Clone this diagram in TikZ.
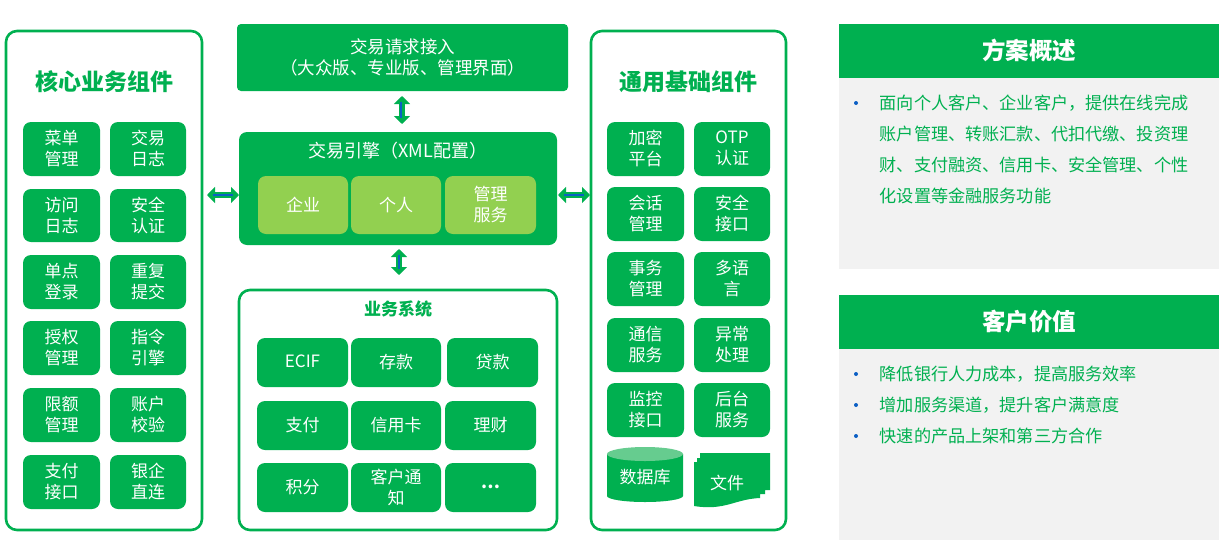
\documentclass[tikz,border=0pt]{standalone}
\usepackage{fontspec}
\setmainfont{Noto Sans CJK SC}
\usetikzlibrary{arrows.meta}
\definecolor{gr}{HTML}{00B050}
\definecolor{lg}{HTML}{92D050}
\definecolor{dbtop}{HTML}{66CC8F}
\definecolor{pale}{HTML}{F2F2F2}
\definecolor{bl}{HTML}{0B5FC4}
\tikzset{
 x=1pt,y=-1pt,
 box/.style n args={4}{anchor=north west,outer sep=0pt,minimum width=#3-#1,minimum height=#4-#2,inner sep=0pt,at={(#1,#2)}},
 cell/.style={fill=gr,rounded corners=8pt,text=white,font=\fontsize{17}{21}\selectfont,align=center,text depth=2pt},
 lcell/.style={fill=lg,rounded corners=8pt,text=white,font=\fontsize{17}{21}\selectfont,align=center,text depth=2pt},
 panel/.style={draw=gr,line width=2.6pt,rounded corners=11pt,fill=white},
 title/.style={text=gr,font=\fontsize{23}{27}\selectfont\bfseries},
 head/.style={fill=gr,text=white,font=\fontsize{23.5}{27}\selectfont\bfseries,text depth=3pt},
 shade/.style={fill=pale},
 para/.style={anchor=west,text=gr,font=\fontsize{17.15}{20}\selectfont,inner sep=0pt},
 dot/.style={circle,fill=bl,inner sep=0pt,minimum size=4pt},
 link/.style={draw=gr,line width=6.5pt,{Triangle[length=8pt,width=16pt]}-{Triangle[length=8pt,width=16pt]}},
 linkc/.style={draw=bl,line width=1.4pt},
}
\begin{document}
\begin{tikzpicture}
\useasboundingbox (0,0) rectangle (1220,549);
% panels
\node[panel,box={6}{31}{202}{530}] (core) {};
\node[panel,box={591}{31}{786}{530}] (base) {};
\node[panel,box={239}{290}{557}{530}] (biz) {};
\node[title] (coreT) at (104,82) {核心业务组件};
\node[title] (baseT) at (688,82) {通用基础组件};
\node[text=gr,font=\fontsize{17}{21}\selectfont\bfseries] (bizT) at (398,309) {业务系统};
% core cells
\node[cell,box={23}{122}{100}{176}] (c1) {菜单\\管理};
\node[cell,box={110}{122}{186}{176}] (c2) {交易\\日志};
\node[cell,box={23}{189}{100}{242}] (c3) {访问\\日志};
\node[cell,box={110}{189}{186}{242}] (c4) {安全\\认证};
\node[cell,box={23}{255}{100}{309}] (c5) {单点\\登录};
\node[cell,box={110}{255}{186}{309}] (c6) {重复\\提交};
\node[cell,box={23}{321}{100}{375}] (c7) {授权\\管理};
\node[cell,box={110}{321}{186}{375}] (c8) {指令\\引擎};
\node[cell,box={23}{388}{100}{442}] (c9) {限额\\管理};
\node[cell,box={110}{388}{186}{442}] (c10) {账户\\校验};
\node[cell,box={23}{455}{100}{509}] (c11) {支付\\接口};
\node[cell,box={110}{455}{186}{509}] (c12) {银企\\直连};
% centre
\node[fill=gr,rounded corners=4pt,text=white,align=center,font=\fontsize{17.5}{21}\selectfont,box={237}{24}{568}{91}] (req) {交易请求接入\\（大众版、专业版、管理界面）};
\node[fill=gr,rounded corners=8pt,box={239}{132}{557}{245}] (eng) {};
\node[text=white,font=\fontsize{18}{21}\selectfont] (engT) at (395.5,151) {\hspace{5pt}交易引擎（XML配置）};
\node[lcell,box={258}{176}{348}{234}] (e1) {企业};
\node[lcell,box={351}{176}{441}{234}] (e2) {个人};
\node[lcell,box={445}{176}{536}{234}] (e3) {管理\\服务};
% business
\node[cell,box={257}{338}{348}{387}] (b1) {ECIF};
\node[cell,box={351}{338}{441}{387}] (b2) {存款};
\node[cell,box={447}{338}{538}{387}] (b3) {贷款};
\node[cell,box={257}{401}{348}{450}] (b4) {支付};
\node[cell,box={351}{401}{441}{450}] (b5) {信用卡};
\node[cell,box={445}{401}{536}{450}] (b6) {理财};
\node[cell,box={257}{463}{348}{512}] (b7) {积分};
\node[cell,box={351}{463}{441}{512}] (b8) {客户通\\知};
\node[cell,box={445}{463}{536}{512}] (b9) {\bfseries …};
% base cells
\node[cell,box={607}{122}{684}{176}] (g1) {加密\\平台};
\node[cell,box={694}{122}{770}{176}] (g2) {OTP\\认证};
\node[cell,box={607}{187}{684}{241}] (g3) {会话\\管理};
\node[cell,box={694}{187}{770}{241}] (g4) {安全\\接口};
\node[cell,box={607}{252}{684}{306}] (g5) {事务\\管理};
\node[cell,box={694}{252}{770}{306}] (g6) {多语\\言};
\node[cell,box={607}{318}{684}{372}] (g7) {通信\\服务};
\node[cell,box={694}{318}{770}{372}] (g8) {异常\\处理};
\node[cell,box={607}{383}{684}{437}] (g9) {监控\\接口};
\node[cell,box={694}{383}{770}{437}] (g10) {后台\\服务};
% database
\fill[gr] (607,454) -- (607,496) arc[start angle=180,end angle=360,x radius=38,y radius=-6] -- (683,454) -- cycle;
\fill[dbtop] (645,454) ellipse[x radius=38,y radius=7];
\node[text=white,font=\fontsize{17}{21}\selectfont] (db) at (645,477) {数据库};
% file
\fill[gr] (700,453) -- (770,453) -- (770,490) -- (765,490) -- (765,494) -- (760,494) -- (760,498)
 .. controls (735,499) and (725,511) .. (694,506) -- (694,462) -- (697,462) -- (697,458) -- (700,458) -- cycle;
\node[text=white,font=\fontsize{17}{21}\selectfont] (file) at (727,483) {文件};
% connectors
\coordinate (reqD) at (402,96);
\coordinate (engN) at (402,124);
\coordinate (engS) at (399,249);
\coordinate (bizN) at (399,275);
\coordinate (coreE) at (207,195);
\coordinate (engW) at (239,195);
\coordinate (engE) at (558,195);
\coordinate (baseW) at (590,195);
\draw[link] (reqD) -- (engN);
\draw[linkc] (reqD) ++(-1,6) -- ++(0,16);
\draw[link] (engS) -- (bizN);
\draw[linkc] (engS) ++(0,6) -- ++(0,14);
\draw[link] (coreE) -- (engW);
\draw[linkc] (coreE) ++(6,0) -- ++(20,0);
\draw[link] (engE) -- (baseW);
\draw[linkc] (engE) ++(6,0) -- ++(20,0);
% right
\node[shade,box={839}{78}{1219}{269}] (s1) {};
\node[head,box={839}{24}{1219}{78}] (h1) {方案概述};
\node[shade,box={839}{349}{1219}{540}] (s2) {};
\node[head,box={839}{295}{1219}{349}] (h2) {客户价值};
\node[dot] (d1) at (856,103) {};
\node[para] (p1) at (879.5,103) {面向个人客户、企业客户，提供在线完成};
\node[para] (p2) at (879.5,134) {账户管理、转账汇款、代扣代缴、投资理};
\node[para] (p3) at (879.5,165) {财、支付融资、信用卡、安全管理、个性};
\node[para] (p4) at (879.5,196) {化设置等金融服务功能};
\node[dot] (d2) at (856,374) {};
\node[dot] (d3) at (856,405) {};
\node[dot] (d4) at (856,436) {};
\node[para] (q1) at (879.5,374) {降低银行人力成本，提高服务效率};
\node[para] (q2) at (879.5,405) {增加服务渠道，提升客户满意度};
\node[para] (q3) at (879.5,436) {快速的产品上架和第三方合作};
\end{tikzpicture}
\end{document}
